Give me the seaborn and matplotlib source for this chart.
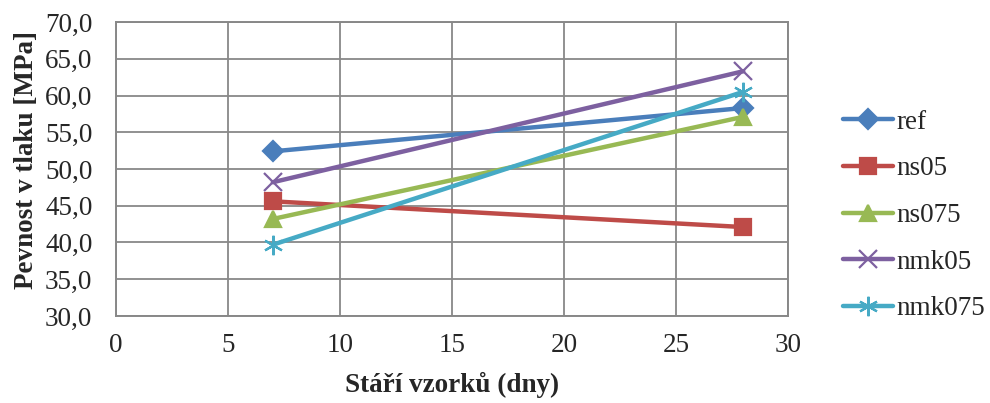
import matplotlib
matplotlib.use("Agg")
import matplotlib.pyplot as plt
import seaborn as sns
import pandas as pd

# Compressive strength by specimen age
days = [7, 28]
series_names = ["ref", "ns05", "ns075", "nmk05", "nmk075"]
ref = [52.4, 58.3]
ns05 = [45.6, 42.1]
ns075 = [43.2, 57.1]
nmk05 = [48.2, 63.3]
nmk075 = [39.7, 60.5]

y_ticks = [30, 35, 40, 45, 50, 55, 60, 65, 70]
x_ticks = [0, 5, 10, 15, 20, 25, 30]

rows = []
for name, vals in zip(series_names, [ref, ns05, ns075, nmk05, nmk075]):
    for d, v in zip(days, vals):
        rows.append({"den": d, "pevnost": v, "serie": name})
df = pd.DataFrame(rows)

sns.set_style("white")
plt.rcParams["font.family"] = ["Liberation Serif", "DejaVu Serif"]

FS = 19.5
colors = {"ref": "#4A7EBB", "ns05": "#BE4B48", "ns075": "#98B954",
          "nmk05": "#7D60A0", "nmk075": "#46AAC5"}
markers = {"ref": "D", "ns05": "s", "ns075": "^", "nmk05": "x", "nmk075": (6, 2, 0)}
msizes = {"ref": 10, "ns05": 12, "ns075": 12, "nmk05": 13, "nmk075": 14}

fig = plt.figure(figsize=(9.9, 4.03), dpi=100)
ax = fig.add_axes([0.1172, 0.2159, 0.6788, 0.7295])

for name in series_names:
    sub = df[df["serie"] == name]
    sns.lineplot(data=sub, x="den", y="pevnost", ax=ax, color=colors[name],
                 linewidth=3.2, marker=markers[name], markersize=msizes[name],
                 markeredgecolor=colors[name], markeredgewidth=1.6,
                 label=name, legend=False)

ax.set_xlim(0, 30)
ax.set_ylim(30, 70)
ax.set_xticks(x_ticks)
ax.set_yticks(y_ticks)
ax.set_xticklabels([str(v) for v in x_ticks], fontsize=FS)
ax.set_yticklabels([f"{v:.1f}".replace(".", ",") for v in y_ticks], fontsize=FS)
ax.grid(True, color="#888888", linewidth=1.3)
for s in ax.spines.values():
    s.set_color("#888888")
    s.set_linewidth(1.4)
ax.tick_params(axis="y", length=0, pad=17)
ax.tick_params(axis="x", length=0, pad=12)
ax.set_xlabel("Stáří vzorků (dny)", fontsize=FS, fontweight="bold", labelpad=10)
ax.set_ylabel("Pevnost v tlaku [MPa]", fontsize=FS, fontweight="bold")
ax.yaxis.set_label_coords(-0.115, 0.529)

handles, labels = ax.get_legend_handles_labels()
fig.legend(handles, labels, loc="center left", bbox_to_anchor=(0.827, 0.465),
           frameon=False, fontsize=FS, handlelength=1.85, labelspacing=0.8,
           handletextpad=0.12)

fig.savefig("out.png", dpi=100)
